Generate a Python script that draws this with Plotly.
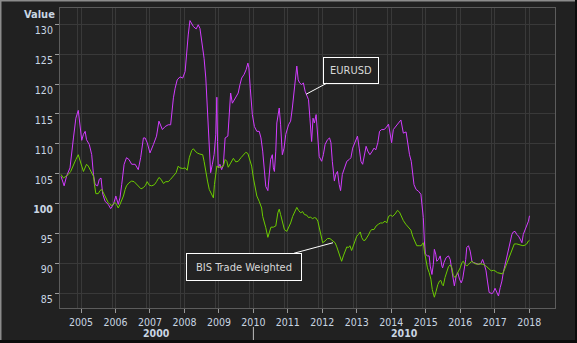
import plotly.graph_objects as go

# ---------------- data ----------------
eur_years = [2004.42, 2004.51, 2004.58, 2004.68, 2004.78, 2004.85, 2004.92, 2004.97, 2005.02, 2005.07,
             2005.12, 2005.16, 2005.24, 2005.31, 2005.36, 2005.41, 2005.48, 2005.53, 2005.58, 2005.63,
             2005.70, 2005.79, 2005.86, 2005.94, 2006.01, 2006.08, 2006.13, 2006.18, 2006.25, 2006.32,
             2006.39, 2006.47, 2006.57, 2006.66, 2006.73, 2006.81, 2006.86, 2006.92, 2007.00, 2007.10,
             2007.19, 2007.26, 2007.31, 2007.36, 2007.44, 2007.53, 2007.60, 2007.63, 2007.68, 2007.73,
             2007.79, 2007.87, 2007.95, 2008.02, 2008.07, 2008.11, 2008.16, 2008.21, 2008.26, 2008.34,
             2008.40, 2008.45, 2008.50, 2008.57, 2008.62, 2008.66, 2008.71, 2008.76, 2008.81, 2008.86,
             2008.91, 2008.94, 2008.96, 2008.98, 2009.03, 2009.08, 2009.13, 2009.18,
             2009.26, 2009.29, 2009.34, 2009.39, 2009.47, 2009.56, 2009.61, 2009.66, 2009.73, 2009.79,
             2009.84, 2009.87, 2009.91, 2009.97, 2010.03, 2010.10, 2010.17, 2010.22, 2010.27, 2010.32,
             2010.36, 2010.42, 2010.46, 2010.50, 2010.55, 2010.58, 2010.61, 2010.65, 2010.68, 2010.73,
             2010.75, 2010.79, 2010.84, 2010.89, 2010.94, 2011.02, 2011.08, 2011.13, 2011.18, 2011.23,
             2011.26, 2011.30, 2011.34, 2011.40, 2011.45, 2011.50, 2011.55, 2011.60, 2011.64, 2011.69,
             2011.73, 2011.77, 2011.82, 2011.87, 2011.91, 2011.98, 2012.03, 2012.08, 2012.15, 2012.21,
             2012.25, 2012.29, 2012.35, 2012.39, 2012.44, 2012.49, 2012.53, 2012.58, 2012.64, 2012.71,
             2012.78, 2012.83, 2012.88, 2012.95, 2013.02, 2013.07, 2013.12, 2013.17, 2013.22, 2013.27,
             2013.32, 2013.38, 2013.45, 2013.50, 2013.55, 2013.61, 2013.66, 2013.72, 2013.79, 2013.85,
             2013.92, 2013.97, 2014.01, 2014.06, 2014.13, 2014.21, 2014.28, 2014.32, 2014.35, 2014.43,
             2014.47, 2014.53, 2014.58, 2014.62, 2014.66, 2014.72, 2014.79, 2014.86, 2014.90, 2014.93,
             2014.96, 2014.99, 2015.05, 2015.10, 2015.13, 2015.18, 2015.22, 2015.25, 2015.29, 2015.32,
             2015.37, 2015.42, 2015.47, 2015.49, 2015.53, 2015.59, 2015.66, 2015.71, 2015.76, 2015.80,
             2015.83, 2015.88, 2015.93, 2015.98, 2016.03, 2016.07, 2016.11, 2016.16, 2016.19, 2016.24,
             2016.29, 2016.34, 2016.38, 2016.46, 2016.53, 2016.60, 2016.65, 2016.70, 2016.75, 2016.79,
             2016.84, 2016.92, 2016.96, 2017.01, 2017.06, 2017.11, 2017.16, 2017.21, 2017.25, 2017.30,
             2017.35, 2017.40, 2017.45, 2017.50, 2017.54, 2017.59, 2017.64, 2017.69, 2017.74, 2017.79,
             2017.83, 2017.88, 2017.93, 2017.98, 2018.01]
eur_values = [104.6, 103.0, 104.6, 106.0, 111.0, 114.3, 115.6, 113.2, 110.6, 111.6,
              112.1, 110.7, 109.9, 108.2, 104.9, 103.2, 103.0, 104.1, 104.3, 101.6,
              100.4, 99.9, 99.2, 99.9, 101.3, 99.9, 101.0, 103.2, 106.6, 107.7,
              107.4, 106.6, 106.6, 105.7, 107.7, 111.0, 111.0, 110.2, 108.5, 109.9,
              111.3, 113.8, 113.2, 112.4, 112.9, 113.2, 113.2, 115.4, 117.7, 119.3,
              120.7, 121.2, 121.0, 122.1, 126.0, 128.2, 130.6, 130.2, 129.6, 129.2,
              129.9, 129.3, 127.1, 124.3, 121.0, 116.0, 110.4, 105.2, 106.6, 108.2,
              111.6, 117.8, 110.4, 106.0, 106.6, 105.7, 106.6, 111.0,
              111.3, 114.3, 118.5, 116.8, 117.7, 118.5, 119.9, 121.0, 121.6, 122.4,
              123.5, 122.7, 119.3, 114.9, 112.9, 112.1, 112.1, 111.0, 108.8, 106.0,
              102.9, 102.2, 104.9, 107.4, 108.2, 106.0, 105.4, 108.8, 113.5, 115.5,
              116.0, 113.2, 108.2, 109.3, 111.6, 113.2, 113.8, 116.0, 118.8, 121.6,
              123.0, 120.7, 120.2, 119.9, 120.2, 118.8, 118.2, 117.4, 114.3, 110.4,
              114.3, 113.5, 114.9, 111.3, 107.9, 107.1, 108.2, 109.9, 110.7, 111.0,
              110.2, 107.1, 103.8, 104.9, 105.4, 103.2, 102.2, 104.9, 106.0, 107.1,
              107.4, 107.7, 109.3, 110.4, 111.3, 109.3, 107.1, 106.6, 108.2, 109.6,
              108.8, 108.2, 108.8, 109.3, 109.0, 110.2, 112.1, 112.4, 112.4, 112.7,
              113.3, 111.6, 110.2, 112.4, 113.0, 113.5, 114.0, 113.0, 111.8, 112.0,
              110.4, 108.2, 107.1, 104.9, 103.2, 102.4, 102.1, 101.6, 99.9, 97.7,
              93.8, 91.6, 91.3, 91.3, 89.6, 88.2, 89.9, 92.4, 91.6, 90.4,
              90.7, 91.3, 89.6, 89.3, 90.2, 91.0, 91.3, 90.7, 88.8, 87.7,
              86.3, 87.9, 88.5, 87.4, 86.8, 87.4, 88.8, 90.7, 92.7, 93.0,
              92.1, 90.4, 90.2, 90.0, 89.9, 90.0, 90.7, 89.9, 88.8, 87.1,
              85.2, 85.0, 85.2, 85.9, 85.2, 84.6, 86.0, 87.1, 88.5, 89.9,
              91.3, 92.1, 93.8, 94.9, 95.3, 95.4, 94.9, 94.6, 94.1, 93.5,
              94.9, 95.7, 96.3, 97.1, 98.0]

bis_years = [2004.42, 2004.49, 2004.56, 2004.63, 2004.70, 2004.78, 2004.85, 2004.92, 2004.97, 2005.02,
             2005.07, 2005.12, 2005.16, 2005.21, 2005.26, 2005.31, 2005.36, 2005.39, 2005.43, 2005.50,
             2005.55, 2005.60, 2005.65, 2005.70, 2005.74, 2005.79, 2005.84, 2005.89, 2005.94, 2005.99,
             2006.03, 2006.08, 2006.13, 2006.18, 2006.23, 2006.28, 2006.32, 2006.39, 2006.47, 2006.54,
             2006.61, 2006.68, 2006.74, 2006.81, 2006.87, 2006.92, 2006.98, 2007.05, 2007.13, 2007.19,
             2007.26, 2007.32, 2007.39, 2007.46, 2007.53, 2007.60, 2007.68, 2007.76, 2007.82, 2007.87,
             2007.95, 2008.02, 2008.08, 2008.14, 2008.21, 2008.26, 2008.31, 2008.37, 2008.45, 2008.53,
             2008.57, 2008.62, 2008.67, 2008.72, 2008.77, 2008.82, 2008.84, 2008.87, 2008.91, 2008.94,
             2009.00, 2009.06, 2009.13, 2009.18, 2009.23, 2009.27, 2009.34, 2009.42, 2009.49, 2009.56,
             2009.64, 2009.71, 2009.78, 2009.84, 2009.89, 2009.95, 2010.00, 2010.05, 2010.10, 2010.17,
             2010.24, 2010.27, 2010.31, 2010.36, 2010.42, 2010.46, 2010.51, 2010.58, 2010.65, 2010.71,
             2010.75, 2010.79, 2010.84, 2010.90, 2010.97, 2011.02, 2011.08, 2011.14, 2011.21, 2011.26,
             2011.31, 2011.37, 2011.43, 2011.48, 2011.55, 2011.60, 2011.66, 2011.71, 2011.77, 2011.82,
             2011.87, 2011.91, 2011.96, 2012.01, 2012.08, 2012.15, 2012.22, 2012.29, 2012.37, 2012.42,
             2012.47, 2012.51, 2012.56, 2012.61, 2012.66, 2012.71, 2012.76, 2012.80, 2012.85, 2012.90,
             2012.95, 2013.00, 2013.05, 2013.10, 2013.14, 2013.19, 2013.24, 2013.29, 2013.34, 2013.39,
             2013.43, 2013.50, 2013.56, 2013.63, 2013.69, 2013.75, 2013.82, 2013.87, 2013.92, 2013.98,
             2014.04, 2014.11, 2014.18, 2014.24, 2014.29, 2014.35, 2014.42, 2014.50, 2014.57, 2014.62,
             2014.67, 2014.74, 2014.81, 2014.87, 2014.90, 2014.93, 2014.96, 2015.00, 2015.05, 2015.10,
             2015.15, 2015.19, 2015.25, 2015.30, 2015.35, 2015.40, 2015.44, 2015.48, 2015.51, 2015.56,
             2015.61, 2015.66, 2015.71, 2015.76, 2015.80, 2015.85, 2015.90, 2015.95, 2016.00, 2016.05,
             2016.09, 2016.14, 2016.19, 2016.24, 2016.29, 2016.34, 2016.38, 2016.43, 2016.50, 2016.58,
             2016.65, 2016.70, 2016.77, 2016.84, 2016.90, 2016.96, 2017.01, 2017.08, 2017.16, 2017.23,
             2017.27, 2017.32, 2017.37, 2017.42, 2017.47, 2017.53, 2017.57, 2017.64, 2017.69, 2017.76,
             2017.82, 2017.88, 2017.93, 2017.98, 2018.01]
bis_values = [104.9, 104.3, 104.6, 104.9, 105.4, 106.6, 107.4, 108.2, 107.1, 106.3,
              105.4, 106.0, 106.6, 106.3, 105.7, 105.3, 104.6, 103.2, 101.7, 101.7,
              102.2, 102.4, 101.8, 101.3, 100.7, 100.2, 99.9, 99.7, 100.0, 100.2,
              99.9, 99.3, 99.9, 100.6, 101.3, 102.4, 103.0, 103.5, 103.8, 103.7,
              103.3, 103.0, 102.5, 102.7, 103.1, 103.7, 103.1, 103.0, 103.2, 103.7,
              104.4, 104.1, 103.4, 103.7, 103.7, 104.1, 104.6, 105.2, 106.3, 106.0,
              105.9, 106.0, 105.6, 107.7, 108.9, 109.2, 108.8, 108.5, 108.3, 108.2,
              107.1, 105.2, 103.8, 102.4, 101.8, 101.3, 101.0, 103.2, 105.4, 106.3,
              106.1, 106.1, 106.3, 107.4, 107.1, 106.1, 106.8, 107.6, 107.0, 107.1,
              107.7, 108.2, 108.6, 108.4, 107.4, 106.3, 104.3, 102.7, 101.3, 100.4,
              99.3, 97.9, 97.1, 96.0, 94.4, 95.4, 96.1, 96.1, 96.3, 98.5,
              99.1, 98.2, 96.8, 95.7, 95.4, 96.0, 96.8, 97.9, 98.7, 99.4,
              98.9, 98.5, 98.7, 98.2, 98.1, 97.7, 97.8, 97.5, 97.7, 97.6,
              97.1, 96.0, 94.6, 93.5, 93.8, 94.2, 94.2, 93.8, 93.5, 92.8,
              91.8, 91.0, 90.4, 91.3, 92.2, 92.8, 92.7, 93.0, 92.2, 93.1,
              94.1, 94.6, 94.9, 95.3, 94.4, 93.9, 93.9, 94.3, 94.8, 95.4,
              95.7, 95.7, 96.3, 96.6, 96.8, 96.8, 97.1, 96.8, 97.9, 98.1,
              97.9, 98.3, 98.9, 98.6, 97.9, 97.2, 96.6, 96.0, 95.6, 94.6,
              93.8, 93.0, 93.0, 93.0, 93.3, 93.5, 92.1, 90.7, 89.3, 88.5,
              87.4, 85.7, 84.4, 85.4, 86.5, 87.1, 87.2, 86.5, 86.3, 87.7,
              88.8, 89.5, 89.8, 89.3, 88.0, 87.7, 88.2, 88.8, 89.3, 90.2,
              90.4, 89.9, 89.6, 89.9, 90.2, 90.4, 90.2, 90.0, 89.9, 90.0,
              89.9, 89.8, 89.5, 89.1, 88.8, 88.9, 88.8, 88.5, 88.4, 88.3,
              88.8, 89.6, 90.2, 91.0, 91.8, 92.7, 93.3, 93.3, 93.2, 93.1,
              93.0, 93.1, 93.3, 93.8, 93.9]

year_ticks = list(range(2005, 2019))
y_ticks = [85, 90, 95, 100, 105, 110, 115, 120, 125, 130]
decade_labels = ["2000", "2010"]

# ---------------- styling ----------------
FONT = "DejaVu Sans Condensed, DejaVu Sans, sans-serif"
LABEL_COLOR = "#c9d6e3"
GRID = "#393939"
MAGENTA = "#d23cff"
GREEN = "#6ccc00"

fig = go.Figure()
fig.add_trace(go.Scatter(x=eur_years, y=eur_values, mode="lines", name="EURUSD",
                         line=dict(color=MAGENTA, width=1)))
fig.add_trace(go.Scatter(x=bis_years, y=bis_values, mode="lines", name="BIS Trade Weighted",
                         line=dict(color=GREEN, width=1)))

fig.update_layout(
    width=577, height=343,
    margin=dict(l=60, r=22, t=8, b=35),
    paper_bgcolor="#212121",
    plot_bgcolor="#232323",
    showlegend=False,
    font=dict(family=FONT, size=10, color=LABEL_COLOR),
)

fig.update_xaxes(
    range=[2004.39, 2018.75],
    tickvals=year_ticks,
    ticktext=[str(v) for v in year_ticks],
    showgrid=True, gridcolor=GRID, gridwidth=1,
    minor=dict(tick0=2004.9, dtick=1, showgrid=True, gridcolor=GRID, gridwidth=1),
    ticks="outside", ticklen=4, tickcolor="#9a9a9a",
    showline=True, linecolor="#5c5c5c", linewidth=1, mirror=True,
    zeroline=False,
    tickfont=dict(family=FONT, size=10.5, color=LABEL_COLOR),
)
fig.update_yaxes(
    range=[82.6, 132.7],
    tickvals=y_ticks,
    ticktext=["<b>100</b>" if v == 100 else str(v) for v in y_ticks],
    showgrid=True, gridcolor=GRID, gridwidth=1,
    ticks="outside", ticklen=4, tickcolor="#9a9a9a",
    showline=True, linecolor="#5c5c5c", linewidth=1, mirror=True,
    zeroline=False,
    tickfont=dict(family=FONT, size=10.5, color=LABEL_COLOR),
    ticklabelshift=6,
)

# axis title "Value"
fig.add_annotation(text="<b>Value</b>", xref="paper", yref="paper",
                   x=-0.006, y=0.977, xanchor="right", yanchor="middle", showarrow=False,
                   font=dict(family=FONT, size=11, color=LABEL_COLOR))

# decade labels (hierarchical axis)
fig.add_annotation(text="<b>" + decade_labels[0] + "</b>", xref="x", yref="paper",
                   x=(2004.39 + 2010) / 2, y=-0.083, xanchor="center", yanchor="middle",
                   showarrow=False, font=dict(family=FONT, size=10.5, color=LABEL_COLOR))
fig.add_annotation(text="<b>" + decade_labels[1] + "</b>", xref="x", yref="paper",
                   x=(2010 + 2018.75) / 2, y=-0.083, xanchor="center", yanchor="middle",
                   showarrow=False, font=dict(family=FONT, size=10.5, color=LABEL_COLOR))
fig.add_shape(type="line", xref="x", yref="paper", x0=2010, x1=2010, y0=-0.063, y1=-0.107,
              line=dict(color="#bfbfbf", width=1))

# callouts
fig.add_annotation(text="EURUSD", x=2011.53, y=118.3, xref="x", yref="y",
                   showarrow=True, arrowhead=0, arrowwidth=1, arrowcolor="#ffffff",
                   ax=45, ay=-24, width=52, height=23, borderpad=1,
                   bordercolor="#ffffff", borderwidth=1, bgcolor="#232323",
                   font=dict(family=FONT, size=11, color="#d8d8d8"))
fig.add_annotation(text="BIS Trade Weighted", x=2012.31, y=93.5, xref="x", yref="y",
                   showarrow=True, arrowhead=0, arrowwidth=1, arrowcolor="#ffffff",
                   ax=-89, ay=24, width=112, height=24, borderpad=1,
                   bordercolor="#ffffff", borderwidth=1, bgcolor="#232323",
                   font=dict(family=FONT, size=11, color="#d8d8d8"))

# outer bevel frame
W, H, L, T = 495.0, 300.0, 60.0, 8.0
def px(x): return (x - L) / W
def py(y): return (T + H - y) / H
fig.add_shape(type="line", xref="paper", yref="paper", x0=px(0), x1=px(577), y0=py(0.5), y1=py(0.5),
              line=dict(color="#8c8c8c", width=2))
fig.add_shape(type="line", xref="paper", yref="paper", x0=px(0.5), x1=px(0.5), y0=py(0), y1=py(343),
              line=dict(color="#8c8c8c", width=2))
fig.add_shape(type="line", xref="paper", yref="paper", x0=px(0), x1=px(577), y0=py(341.5), y1=py(341.5),
              line=dict(color="#0c0c0c", width=3))
fig.add_shape(type="line", xref="paper", yref="paper", x0=px(576), x1=px(576), y0=py(0), y1=py(343),
              line=dict(color="#0c0c0c", width=2))

fig.write_html("out.html")
